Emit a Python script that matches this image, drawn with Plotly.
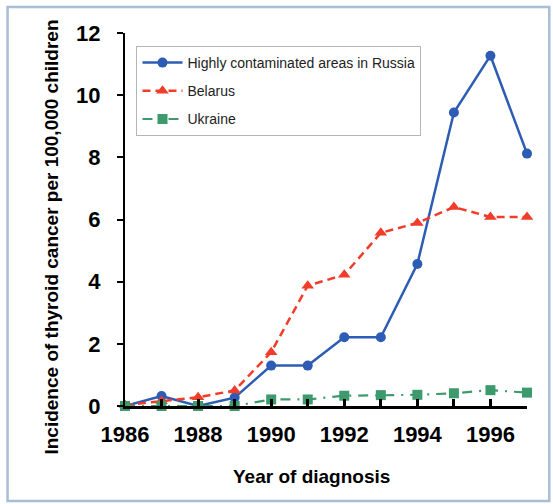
import plotly.graph_objects as go

years = list(range(1986, 1998))
russia = [0.0, 0.32, 0.0, 0.27, 1.3, 1.3, 2.21, 2.21, 4.57, 9.44, 11.27, 8.12]
belarus = [0.03, 0.16, 0.28, 0.5, 1.73, 3.87, 4.22, 5.57, 5.89, 6.4, 6.08, 6.08]
ukraine = [0.0, 0.0, 0.0, 0.0, 0.21, 0.21, 0.33, 0.35, 0.36, 0.41, 0.51, 0.43]
x_tick_vals = years
x_tick_text = ["1986", "", "1988", "", "1990", "", "1992", "", "1994", "", "1996", ""]
y_tick_vals = [0, 2, 4, 6, 8, 10, 12]

names = ["Highly contaminated areas in Russia", "Belarus", "Ukraine"]
colors = ["#2c5cb4", "#f03c2a", "#3c9a6c"]

fig = go.Figure()
fig.add_trace(go.Scatter(x=years, y=russia, name=names[0], mode="lines+markers",
                         line=dict(color=colors[0], width=2.5),
                         marker=dict(symbol="circle", size=10, color=colors[0]),
                         cliponaxis=False, legendgroup="a"))
fig.add_trace(go.Scatter(x=years, y=belarus, name=names[1], mode="lines+markers",
                         line=dict(color=colors[1], width=2.5, dash="8px,5px"),
                         marker=dict(symbol="triangle-up", size=11, color=colors[1]),
                         cliponaxis=False, legendgroup="b"))
fig.add_trace(go.Scatter(x=years, y=ukraine, name=names[2], mode="lines+markers",
                         line=dict(color=colors[2], width=2.2, dash="10px,7px,2px,7px"),
                         marker=dict(symbol="square", size=10, color=colors[2]),
                         cliponaxis=False, legendgroup="c"))

L, R, T, B = 124.5, 26.3, 33, 98
pw = 553 - L - R
ph = 504 - T - B

def px2paper(x, y):
    return (x - L) / pw, (504 - B - y) / ph

font_family = "Liberation Sans, Arial, sans-serif"

fx0, fy0 = px2paper(7, 7)
fx1, fy1 = px2paper(549, 501)

lx, ly = px2paper(136, 46)
ytx, yty = px2paper(51, 237)
xtx, xty = px2paper(311, 477)

fig.update_layout(
    width=553, height=504,
    margin=dict(l=L, r=R, t=T, b=B),
    paper_bgcolor="white", plot_bgcolor="white",
    font=dict(family=font_family, color="black"),
    showlegend=True,
    legend=dict(x=lx, y=ly, xanchor="left", yanchor="top",
                bgcolor="white", bordercolor="#b5b5b5", borderwidth=1,
                font=dict(size=14, color="#222222", family=font_family),
                traceorder="grouped", tracegroupgap=7, itemwidth=40),
    xaxis=dict(range=[1986, 1997], tickmode="array", tickvals=x_tick_vals, ticktext=x_tick_text,
               showgrid=False, zeroline=False, showline=True, linecolor="black", linewidth=2.5,
               ticks="inside", ticklen=7, tickwidth=2.5, tickcolor="black",
               tickfont=dict(size=22, weight="bold", family=font_family), ticklabelstandoff=7),
    yaxis=dict(range=[0, 12], tickmode="array", tickvals=y_tick_vals,
               showgrid=False, zeroline=False, showline=True, linecolor="black", linewidth=2,
               ticks="outside", ticklen=6, tickwidth=2, tickcolor="black",
               tickfont=dict(size=22, weight="bold", family=font_family), ticklabelstandoff=12),
    shapes=[dict(type="rect", xref="paper", yref="paper", x0=fx0, y0=fy1, x1=fx1, y1=fy0,
                 line=dict(color="#a9bdd8", width=2.5), layer="below")],
    annotations=[
        dict(text="Incidence of thyroid cancer per 100,000 children", xref="paper", yref="paper",
             x=ytx, y=yty, xanchor="center", yanchor="middle", textangle=-90, showarrow=False,
             font=dict(size=19, weight="bold", family=font_family)),
        dict(text="Year of diagnosis", xref="paper", yref="paper",
             x=xtx, y=xty, xanchor="center", yanchor="middle", showarrow=False,
             font=dict(size=19, weight="bold", family=font_family)),
    ],
)

fig.write_html("out.html", config={"displayModeBar": False},
               post_script="document.body.style.margin='0';document.body.style.overflow='hidden';")
